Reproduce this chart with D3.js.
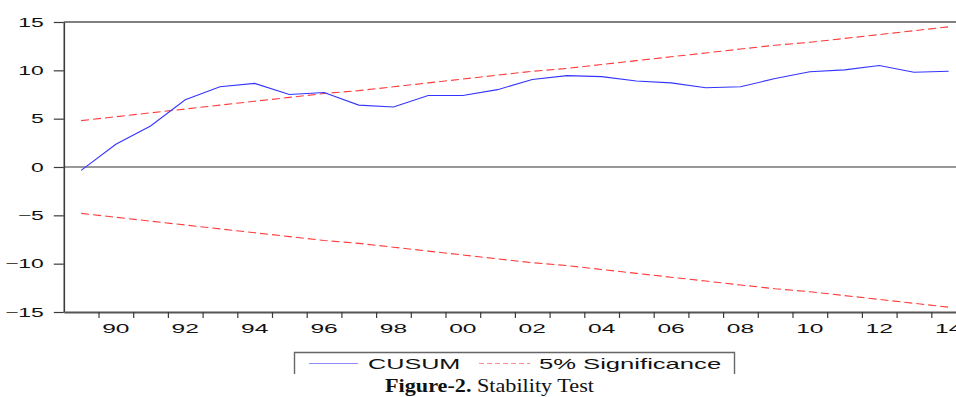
<!DOCTYPE html>
<html>
<head>
<meta charset="utf-8">
<script src="https://cdn.jsdelivr.net/npm/d3@7"></script>
<style>
  html, body { margin: 0; padding: 0; background: #fff; }
  svg { display: block; }
</style>
</head>
<body>
<svg id="chart" width="956" height="397"></svg>
<script>
// ---- data ----
const years = d3.range(1989, 2015);
const cusum = [-0.35, 2.35, 4.25, 6.95, 8.3, 8.65, 7.5, 7.7, 6.4, 6.2, 7.4, 7.4, 8.0,
               9.05, 9.45, 9.35, 8.9, 8.7, 8.2, 8.3, 9.15, 9.85, 10.05, 10.5, 9.8, 9.9];
const upper = [4.8, 5.2, 5.6, 6.0, 6.4, 6.8, 7.2, 7.6, 7.9, 8.3, 8.7, 9.1, 9.5,
               9.9, 10.2, 10.6, 11.0, 11.4, 11.8, 12.2, 12.6, 12.9, 13.3, 13.7, 14.1, 14.5];
const lower = [-4.8, -5.2, -5.6, -6.0, -6.4, -6.8, -7.2, -7.6, -7.9, -8.3, -8.7, -9.1, -9.5,
               -9.9, -10.2, -10.6, -11.0, -11.4, -11.8, -12.2, -12.6, -12.9, -13.3, -13.7, -14.1, -14.5];
const yTicks = [-15, -10, -5, 0, 5, 10, 15];
const xLabelYears = [1990, 1992, 1994, 1996, 1998, 2000, 2002, 2004, 2006, 2008, 2010, 2012, 2014];
const legendLabels = ["CUSUM", "5% Significance"];
const captionBold = "Figure-2.";
const captionRest = " Stability Test";

// ---- layout ----
const svg = d3.select("#chart");
const plotLeft = 63.8, plotTop = 22, plotBottom = 312, yearW = 34.7;
const x = d3.scaleLinear().domain([1989, 2015]).range([plotLeft, plotLeft + 26 * yearW]);
const y = d3.scaleLinear().domain([-15, 15]).range([plotBottom, plotTop]);
const axisColor = "#3a3a3a";
const sansFont = "Liberation Sans, Arial, Helvetica, sans-serif";

// zero line
svg.append("line")
  .attr("x1", plotLeft).attr("x2", 956)
  .attr("y1", y(0)).attr("y2", y(0))
  .attr("stroke", "#333").attr("stroke-width", 1);

// top border
svg.append("line")
  .attr("x1", plotLeft).attr("x2", 956)
  .attr("y1", plotTop).attr("y2", plotTop)
  .attr("stroke", "#555").attr("stroke-width", 1.6);

// y axis
const yAxis = svg.append("g")
  .attr("transform", `translate(${plotLeft},0)`)
  .call(d3.axisLeft(y).tickValues(yTicks).tickSize(10).tickSizeOuter(0));
yAxis.select(".domain").attr("stroke", axisColor).attr("stroke-width", 1.6);
yAxis.selectAll(".tick line").attr("stroke", axisColor).attr("stroke-width", 1.2);
yAxis.selectAll(".tick text")
  .attr("x", 0).attr("dy", null)
  .attr("transform", "translate(-20,4.2) scale(1.82,1)")
  .attr("text-anchor", "end")
  .attr("font-family", sansFont)
  .attr("font-size", 12.6)
  .attr("fill", "#111");

// x axis ticks at year boundaries
const xAxis = svg.append("g")
  .attr("transform", `translate(0,${plotBottom})`)
  .call(d3.axisBottom(x).tickValues(d3.range(1990, 2015)).tickSize(6).tickSizeOuter(0).tickFormat(""));
xAxis.select(".domain").attr("stroke", "#555").attr("stroke-width", 1.8);
xAxis.selectAll(".tick line").attr("stroke", axisColor).attr("stroke-width", 1.2);

// x labels centered in the year
svg.append("g").selectAll("text")
  .data(xLabelYears)
  .join("text")
  .attr("transform", d => `translate(${x(d + 0.5)},${plotBottom + 20.5}) scale(1.95,1)`)
  .attr("text-anchor", "middle")
  .attr("font-family", sansFont)
  .attr("font-size", 12.6)
  .attr("fill", "#111")
  .text(d => String(d % 100).padStart(2, "0"));

// bounds
const line = d3.line().x((d, i) => x(years[i] + 0.5)).y(d => y(d));
[upper, lower].forEach(arr => {
  svg.append("path")
    .attr("d", line(arr))
    .attr("fill", "none")
    .attr("stroke", "#ff3b3b")
    .attr("stroke-width", 1.1)
    .attr("stroke-dasharray", "8,4");
});

// CUSUM
svg.append("path")
  .attr("d", line(cusum))
  .attr("fill", "none")
  .attr("stroke", "#3434ff")
  .attr("stroke-width", 1.1);

// legend
const lg = svg.append("g");
lg.append("path")
  .attr("d", "M294.5,374 L294.5,352.5 L734.5,352.5 L734.5,374")
  .attr("fill", "none").attr("stroke", "#666").attr("stroke-width", 1.4);
lg.append("line").attr("x1", 309).attr("x2", 358).attr("y1", 363.5).attr("y2", 363.5)
  .attr("stroke", "#8c8cff").attr("stroke-width", 1.2);
lg.append("line").attr("x1", 479).attr("x2", 530).attr("y1", 363.5).attr("y2", 363.5)
  .attr("stroke", "#ff8c8c").attr("stroke-width", 1.2).attr("stroke-dasharray", "5,3");
lg.append("text")
  .attr("transform", "translate(368,368.5) scale(1.8,1)")
  .attr("font-family", sansFont).attr("font-size", 14).attr("fill", "#111")
  .text(legendLabels[0]);
lg.append("text")
  .attr("transform", "translate(539,368.5) scale(1.83,1)")
  .attr("font-family", sansFont).attr("font-size", 14).attr("fill", "#111")
  .text(legendLabels[1]);

// caption
const cap = svg.append("text")
  .attr("x", 385).attr("y", 391.5)
  .attr("font-family", "Liberation Serif, Times New Roman, serif")
  .attr("font-size", 18.5).attr("fill", "#111")
  .attr("textLength", 209).attr("lengthAdjust", "spacingAndGlyphs");
cap.append("tspan").attr("font-weight", "bold").text(captionBold);
cap.append("tspan").text(captionRest);
</script>
</body>
</html>
